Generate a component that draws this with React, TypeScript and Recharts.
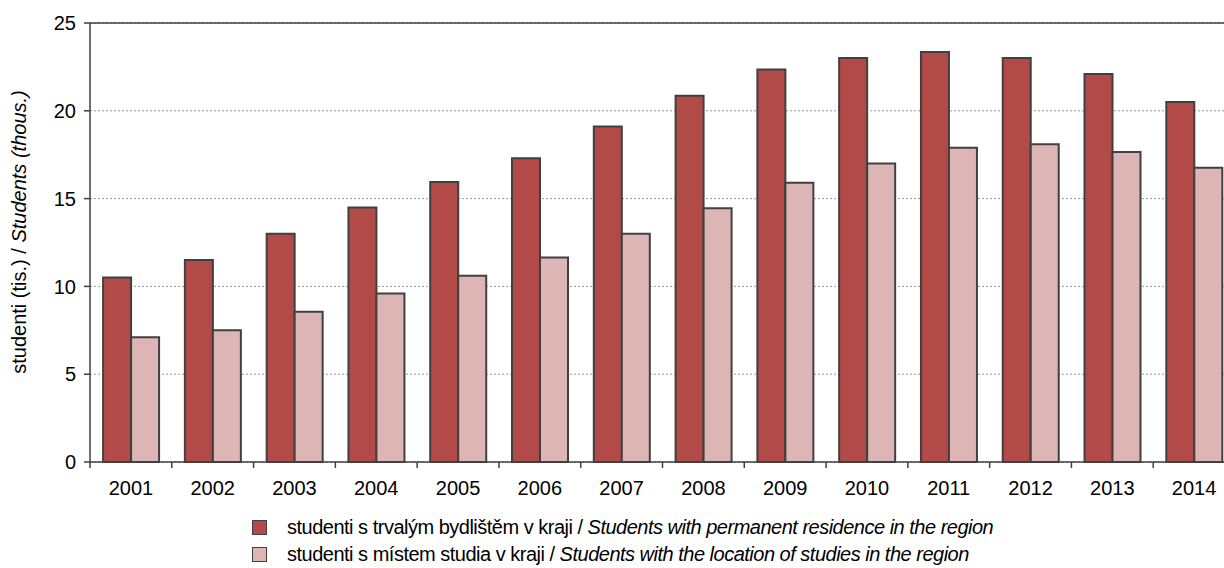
import React from 'react';
import { BarChart, Bar, XAxis, YAxis, CartesianGrid, ReferenceLine } from 'recharts';

// studenti (tis.) podle roku
const years = ['2001', '2002', '2003', '2004', '2005', '2006', '2007', '2008', '2009', '2010', '2011', '2012', '2013', '2014'];
const residence = [10.5, 11.5, 13.0, 14.5, 15.95, 17.3, 19.1, 20.85, 22.35, 23.0, 23.35, 23.0, 22.1, 20.5];
const studyPlace = [7.1, 7.5, 8.55, 9.6, 10.6, 11.65, 13.0, 14.45, 15.9, 17.0, 17.9, 18.1, 17.65, 16.75];
const yTicks = [0, 5, 10, 15, 20, 25];

const seriesNames = {
  residence: ['studenti s trvalým bydlištěm v kraji / ', 'Students with permanent residence in the region'],
  studyPlace: ['studenti s místem studia v kraji / ', 'Students with the location of studies in the region'],
};

const RED = '#B24A48';
const PINK = '#DDB5B5';
const EDGE = '#404040';
const FONT = '"Liberation Sans", Arial, sans-serif';

const CHART_W = 1235;
const CHART_H = 568;
const Y_AXIS_W = 90;
const BAND = (CHART_W - Y_AXIS_W) / years.length;

const data = years.map((year, i) => ({
  year,
  residence: residence[i],
  studyPlace: studyPlace[i],
}));

// tick mark sits on the category boundary, label in the middle
const YearTick = ({ x, y, payload }: any) => {
  const left = x - BAND / 2;
  return (
    <g>
      <line x1={left} x2={left} y1={y - 6} y2={y} stroke={EDGE} strokeWidth={1.5} />
      <text x={x} y={y + 27} textAnchor="middle" fontSize={20} fill="#000" fontFamily={FONT}>
        {payload.value}
      </text>
    </g>
  );
};

const YLabel = () => (
  <text
    x={19}
    y={232}
    transform="rotate(-90, 19, 232)"
    textAnchor="middle"
    dominantBaseline="central"
    fontSize={20}
    fill="#000"
    fontFamily={FONT}
  >
    <tspan>studenti (tis.) / </tspan>
    <tspan fontStyle="italic">Students (thous.)</tspan>
  </text>
);

const LegendRow = ({ color, parts }: { color: string; parts: string[] }) => (
  <div style={{ display: 'flex', alignItems: 'center', height: 27 }}>
    <span
      style={{
        display: 'inline-block',
        width: 13,
        height: 13,
        background: color,
        border: `1.5px solid ${EDGE}`,
        marginRight: 20,
      }}
    />
    <span style={{ fontSize: 20, letterSpacing: '-0.5px', whiteSpace: 'nowrap' }}>
      {parts[0]}
      <i>{parts[1]}</i>
    </span>
  </div>
);

export default function App() {
  return (
    <div
      style={{
        position: 'absolute',
        left: 0,
        top: 0,
        width: 1224,
        height: 568,
        overflow: 'hidden',
        background: '#fff',
        fontFamily: FONT,
      }}
    >
      <BarChart
        width={CHART_W}
        height={CHART_H}
        data={data}
        margin={{ top: 23, right: 0, left: 0, bottom: 0 }}
        barCategoryGap="16%"
        barGap={0}
      >
        <CartesianGrid vertical={false} stroke="#9A9A9A" strokeDasharray="2 2" />
        <XAxis
          dataKey="year"
          height={106}
          tickLine={false}
          tickSize={6}
          tickMargin={0}
          axisLine={{ stroke: EDGE, strokeWidth: 1.5 }}
          tick={<YearTick />}
          interval={0}
        />
        <YAxis
          width={Y_AXIS_W}
          domain={[0, 25]}
          ticks={yTicks}
          tickSize={6}
          tickMargin={8}
          tickLine={{ stroke: EDGE, strokeWidth: 1.5 }}
          axisLine={{ stroke: EDGE, strokeWidth: 1.5 }}
          tick={{ fontSize: 20, fill: '#000', fontFamily: FONT }}
          label={<YLabel />}
        />
        <ReferenceLine y={25} stroke={EDGE} strokeWidth={1.5} />
        <Bar
          dataKey="residence"
          name={seriesNames.residence.join('')}
          fill={RED}
          stroke={EDGE}
          strokeWidth={2}
          isAnimationActive={false}
        />
        <Bar
          dataKey="studyPlace"
          name={seriesNames.studyPlace.join('')}
          fill={PINK}
          stroke={EDGE}
          strokeWidth={2}
          isAnimationActive={false}
        />
      </BarChart>
      <div style={{ position: 'absolute', left: 252, top: 514 }}>
        <LegendRow color={RED} parts={seriesNames.residence} />
        <LegendRow color={PINK} parts={seriesNames.studyPlace} />
      </div>
    </div>
  );
}
